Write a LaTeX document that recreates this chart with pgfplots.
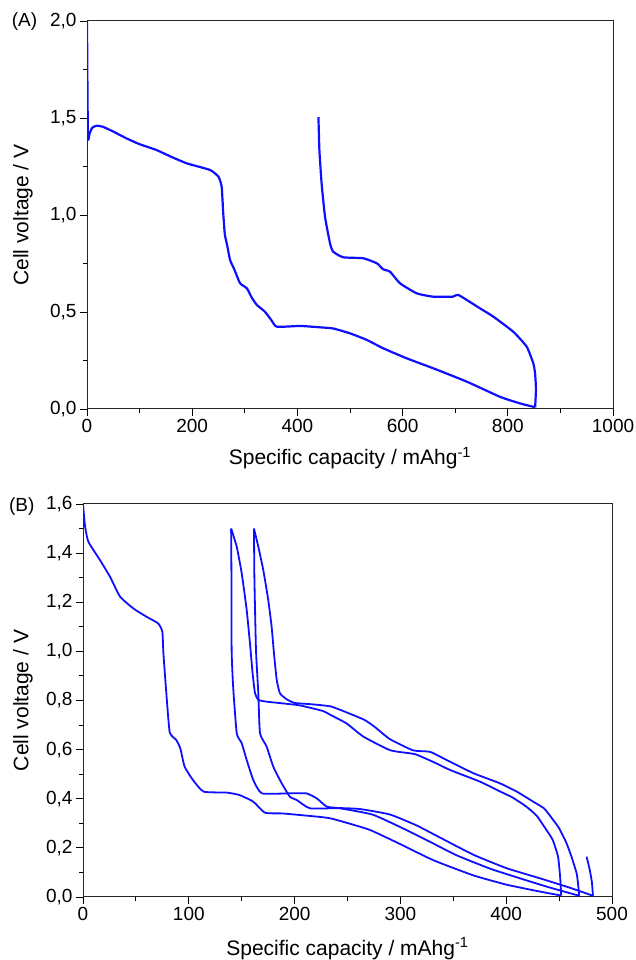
\documentclass[border=0pt]{standalone}
\usepackage{fontspec}
\setmainfont{Liberation Sans}
\usepackage{pgfplots}
\pgfplotsset{compat=1.18}
\definecolor{curve}{RGB}{15,15,255}
\pgfplotsset{
  myaxis/.style={
    scale only axis, anchor=south west, clip mode=individual,
    axis line style={line width=1bp, black!85},
    tick align=outside, xtick pos=left, ytick pos=left,
    major tick length=7bp, minor tick length=4bp,
    every tick/.style={black, line width=0.9bp},
    minor x tick num=1, minor y tick num=1,
    tick label style={font=\fontsize{19bp}{22bp}\selectfont},
    label style={font=\fontsize{21bp}{25bp}\selectfont},
    /pgf/number format/assume math mode=true,
    xticklabel style={/pgf/number format/fixed, /pgf/number format/1000 sep={}},
    yticklabel style={/pgf/number format/fixed, /pgf/number format/fixed zerofill, /pgf/number format/precision=1, /pgf/number format/use comma},
    xlabel={Specific capacity / mAhg\textsuperscript{-1}},
    ylabel={Cell voltage / V},
  },
  crv/.style={curve, line join=round, smooth, tension=0.3},
}
\begin{document}
\begin{tikzpicture}
\useasboundingbox (0,0) rectangle (636bp,960bp);
% ---------------- Panel A ----------------
\begin{axis}[myaxis, at={(87bp,551bp)}, width=526bp, height=388bp,
  xmin=0, xmax=1000, ymin=0, ymax=2,
  xtick={0,200,400,600,800,1000}, ytick={0,0.5,1,1.5,2},
  xlabel style={at={(axis description cs:0.5,-0.1443)}, anchor=base},
  ylabel style={at={(axis description cs:-0.1217,0.5)}, anchor=center}]
\addplot[crv, line width=2.2bp] coordinates {
(0,2.0)(0.5,1.8)(1,1.6)(2,1.39)(5,1.42)(10,1.45)(18,1.46)(30,1.455)(50,1.43)(75,1.395)
(100,1.365)(132,1.335)(160,1.30)(190,1.266)(234,1.232)(250,1.197)(256,1.146)(259,1.009)
(262,0.90)(266,0.85)(272,0.768)(280,0.72)(291,0.648)(304,0.622)(313,0.575)(323,0.536)(338,0.502)
(350,0.46)(361,0.424)(405,0.428)(443,0.421)(468,0.415)(500,0.39)(532,0.356)(563,0.313)
(608,0.261)(658,0.21)(722,0.141)(785,0.063)(823,0.029)(852,0.009)};
\addplot[crv, line width=2.2bp] coordinates {
(852,0.009)(853.5,0.1)(852,0.18)(848.5,0.235)(836,0.321)(810.5,0.398)(772.5,0.476)(747,0.519)
(706,0.588)(696,0.579)(658,0.579)(627,0.596)(595,0.648)(576,0.708)(563,0.72)(551,0.751)
(525,0.777)(487,0.782)(468,0.811)(462,0.854)(452.5,0.991)(446,1.163)(441.8,1.335)(440,1.504)};
\node[anchor=base, font=\fontsize{19bp}{22bp}\selectfont, xshift=-62.5bp, yshift=-6bp] at (rel axis cs:0,1) {(A)};
\end{axis}
% ---------------- Panel B ----------------
\begin{axis}[myaxis, at={(83bp,63bp)}, width=529bp, height=393bp,
  xmin=0, xmax=500, ymin=0, ymax=1.6,
  xtick={0,100,200,300,400,500}, ytick={0,0.2,0.4,0.6,0.8,1.0,1.2,1.4,1.6},
  xlabel style={at={(axis description cs:0.5,-0.1476)}, anchor=base},
  ylabel style={at={(axis description cs:-0.1134,0.5)}, anchor=center}]
% discharge 1
\addplot[crv, line width=1.8bp] coordinates {
(0,1.6)(1,1.55)(2,1.508)(5,1.447)(16,1.372)(25.5,1.304)(35,1.223)(47.5,1.175)(60,1.141)
(71,1.114)(75,1.08)(76,0.992)(79,0.816)(82,0.67)(88,0.64)(92,0.605)(96,0.531)(104,0.476)
(114,0.429)(136,0.425)(148,0.415)(161,0.388)(172,0.343)(189,0.34)(224,0.326)(236,0.318)
(270,0.275)(300,0.215)(331,0.15)(369,0.088)(400.5,0.05)(432,0.022)(452,0.006)};
% charge 1
\addplot[crv, line width=1.8bp] coordinates {
(452,0.006)(451,0.08)(449,0.164)(444,0.232)(438,0.273)(429,0.33)(419,0.368)(406,0.405)
(394,0.43)(375,0.47)(347,0.517)(331,0.55)(315,0.58)(309,0.585)(290,0.598)(265,0.653)
(249,0.707)(234,0.741)(227,0.757)(205,0.78)(185,0.79)(174,0.795)(166,0.802)(162.6,0.829)
(160.3,0.911)(157.8,1.033)(154.7,1.169)(150,1.318)(145.3,1.426)(140,1.5)};
% discharge 2
\addplot[crv, line width=1.8bp] coordinates {
(140,1.5)(140.3,1.3)(140.5,1.0)(142,0.85)(145.3,0.667)(150,0.626)(154.7,0.558)(161,0.476)
(169,0.422)(195,0.422)(211,0.422)(220.8,0.402)(230.3,0.368)(243,0.361)(274,0.335)(306,0.272)
(331,0.218)(353,0.17)(385,0.115)(416,0.072)(440,0.04)(469,0.005)};
% charge 2
\addplot[crv, line width=1.8bp] coordinates {
(469,0.005)(468,0.05)(466.6,0.096)(462,0.16)(457,0.219)(450,0.28)(444.5,0.313)(436,0.36)
(425.6,0.388)(410,0.429)(394,0.463)(369,0.504)(344,0.557)(328,0.591)(312,0.597)(290,0.643)
(275,0.695)(265.6,0.722)(250,0.75)(234,0.776)(215,0.785)(200,0.79)(192.5,0.805)(186.2,0.829)
(183.1,0.884)(180.5,0.992)(178.3,1.10)(175.1,1.209)(170.4,1.331)(165.7,1.426)(161.6,1.5)};
% discharge 3
\addplot[crv, line width=1.8bp] coordinates {
(161.6,1.5)(162,1.3)(163.5,1.006)(165.7,0.829)(167.3,0.667)(173.6,0.612)(179.9,0.530)
(187.8,0.463)(195.6,0.408)(202,0.395)(214.6,0.361)(243,0.362)(262,0.358)(290,0.336)
(315,0.292)(337,0.243)(369,0.172)(400.5,0.117)(432,0.076)(460,0.038)(482,0.005)};
% charge 3 (start)
\addplot[crv, line width=1.8bp] coordinates {
(482,0.005)(481,0.06)(479,0.11)(476,0.164)};
\node[anchor=base, font=\fontsize{19bp}{22bp}\selectfont, xshift=-61.3bp, yshift=-7.7bp] at (rel axis cs:0,1) {(B)};
\end{axis}
\end{tikzpicture}
\end{document}
